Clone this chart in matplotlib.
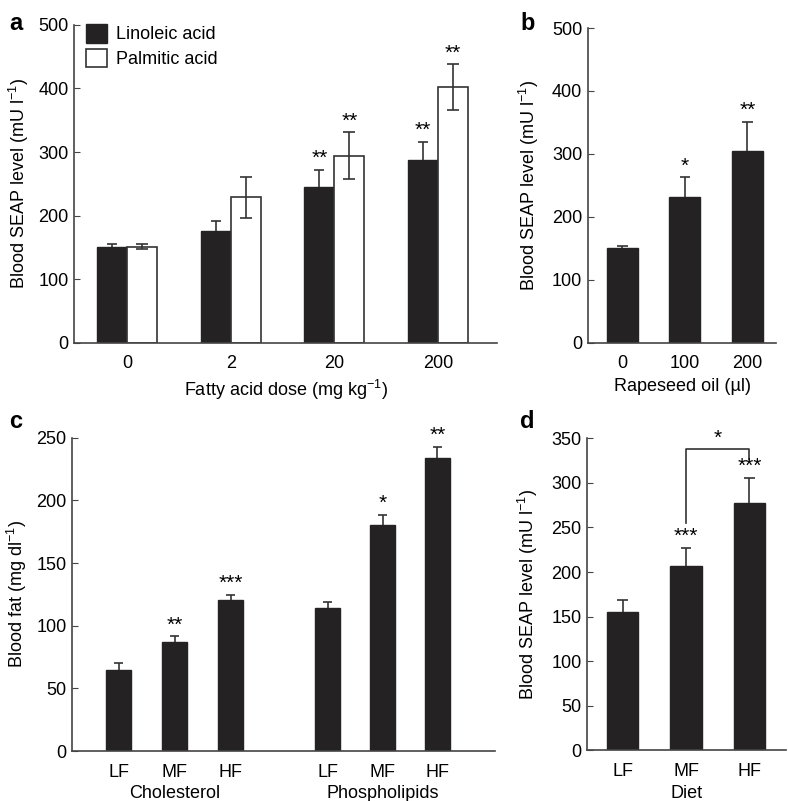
import matplotlib
matplotlib.use("Agg")
import matplotlib.pyplot as plt
import numpy as np

plt.rcParams["font.family"] = ["Liberation Sans", "DejaVu Sans"]
plt.rcParams["mathtext.fontset"] = "custom"
plt.rcParams["mathtext.rm"] = "Liberation Sans"
plt.rcParams["mathtext.default"] = "regular"
plt.rcParams["font.size"] = 10.5

BAR = "#252223"
AXC = "#444444"

# panel a
doses = ["0", "2", "20", "200"]
linoleic = [151, 176, 245, 288]
linoleic_err = [4, 16, 27, 28]
palmitic = [151, 229, 294, 402]
palmitic_err = [4, 32, 37, 36]
stars_lin = ["", "", "**", "**"]
stars_pal = ["", "", "**", "**"]

# panel b
oil = ["0", "100", "200"]
oil_vals = [151, 232, 305]
oil_err = [3, 31, 46]
oil_stars = ["", "*", "**"]

# panel c
diets = ["LF", "MF", "HF"]
chol = [65, 87, 120.5]
chol_err = [5, 4.5, 4]
chol_stars = ["", "**", "***"]
phos = [114, 180.5, 234]
phos_err = [5, 8, 9]
phos_stars = ["", "*", "**"]

# panel d
diet_vals = [155, 206.5, 277]
diet_err = [14, 21, 29]
diet_stars = ["", "***", "***"]


def style(ax):
    for s in ["top", "right"]:
        ax.spines[s].set_visible(False)
    for s in ["left", "bottom"]:
        ax.spines[s].set_color(AXC)
        ax.spines[s].set_linewidth(1.2)
    ax.tick_params(axis="y", direction="in", length=4, color=AXC, labelsize=13, pad=4)
    ax.tick_params(axis="x", length=0, labelsize=13, pad=9)


def up_err(ax, x, vals, errs, capw):
    # one-sided (upward) error bars
    x = np.asarray(x, dtype=float)
    tops = np.asarray(vals) + np.asarray(errs)
    ax.vlines(x, vals, tops, color="#333333", lw=1.2, zorder=3)
    ax.hlines(tops, x - capw, x + capw, color="#333333", lw=1.2, zorder=3)


def upbars(ax, x, vals, errs, w):
    ax.bar(x, vals, width=w, color=BAR, edgecolor=BAR, zorder=2)
    up_err(ax, x, vals, errs, w * 0.17)


def stars(ax, x, vals, errs, labels, gap):
    for xi, v, e, s in zip(x, vals, errs, labels):
        if s:
            ax.text(xi, v + e + gap, s, ha="center", va="bottom", fontsize=15)


fig = plt.figure(figsize=(7.88, 8.01), dpi=100)

# ---- a
ax = fig.add_axes([0.094, 0.572, 0.537, 0.397])
style(ax)
x = np.arange(len(doses))
w = 0.29
ax.bar(x - w / 2, linoleic, width=w, color=BAR, edgecolor=BAR, label="Linoleic acid", zorder=2)
ax.bar(x + w / 2, palmitic, width=w, color="white", edgecolor="#333333", linewidth=1.2,
       label="Palmitic acid", zorder=2)
up_err(ax, x - w / 2, linoleic, linoleic_err, w * 0.17)
ax.errorbar(x + w / 2, palmitic, yerr=palmitic_err, fmt="none",
            ecolor="#333333", elinewidth=1.2, capsize=4, capthick=1.2, zorder=3)
stars(ax, x - w / 2, linoleic, linoleic_err, stars_lin, 3)
stars(ax, x + w / 2, palmitic, palmitic_err, stars_pal, 3)
ax.set_xticks(x)
ax.set_xticklabels(doses)
ax.set_xlim(-0.51, 3.57)
ax.set_ylim(0, 500)
ax.set_yticks(range(0, 501, 100))
ax.set_ylabel("Blood SEAP level (mU l$^{-1}$)", fontsize=13, labelpad=5)
ax.set_xlabel("Fatty acid dose (mg kg$^{-1}$)", fontsize=13, labelpad=4)
ax.legend(loc="upper left", frameon=False, fontsize=13, handlelength=1.2, handleheight=1.2,
          handletextpad=0.5, borderaxespad=0.0, bbox_to_anchor=(0.01, 1.025), labelspacing=0.3)
fig.text(0.012, 0.985, "a", fontsize=17, fontweight="bold", va="top")

# ---- b
ax = fig.add_axes([0.746, 0.572, 0.239, 0.393])
style(ax)
x = np.arange(len(oil))
upbars(ax, x, oil_vals, oil_err, 0.5)
stars(ax, x, oil_vals, oil_err, oil_stars, 3)
ax.set_xticks(x)
ax.set_xticklabels(oil)
ax.set_xlim(-0.55, 2.46)
ax.set_ylim(0, 500)
ax.set_yticks(range(0, 501, 100))
ax.set_ylabel("Blood SEAP level (mU l$^{-1}$)", fontsize=13, labelpad=8)
ax.set_xlabel("Rapeseed oil (\u00b5l)", fontsize=13, labelpad=4)
fig.text(0.66, 0.985, "b", fontsize=17, fontweight="bold", va="top")

# ---- c
ax = fig.add_axes([0.0914, 0.0624, 0.537, 0.391])
style(ax)
xc = np.array([0, 1, 2])
xp = np.array([3.73, 4.71, 5.69])
upbars(ax, xc, chol, chol_err, 0.45)
upbars(ax, xp, phos, phos_err, 0.45)
stars(ax, xc, chol, chol_err, chol_stars, 1.5)
stars(ax, xp, phos, phos_err, phos_stars, 1.5)
ax.set_xticks(np.concatenate([xc, xp]))
ax.set_xticklabels(diets + diets)
ax.set_xlim(-0.83, 6.72)
ax.set_ylim(0, 250)
ax.set_yticks(range(0, 251, 50))
ax.set_ylabel("Blood fat (mg dl$^{-1}$)", fontsize=13, labelpad=5)
ax.text(xc.mean(), -0.135, "Cholesterol", transform=ax.get_xaxis_transform(),
        ha="center", va="center", fontsize=13)
ax.text(xp.mean(), -0.135, "Phospholipids", transform=ax.get_xaxis_transform(),
        ha="center", va="center", fontsize=13)
fig.text(0.012, 0.488, "c", fontsize=17, fontweight="bold", va="top")

# ---- d
ax = fig.add_axes([0.745, 0.0636, 0.252, 0.389])
style(ax)
x = np.arange(len(diets))
upbars(ax, x, diet_vals, diet_err, 0.49)
stars(ax, x, diet_vals, diet_err, diet_stars, 2)
ax.plot([1, 1, 2, 2], [255, 338, 338, 327], color="#333333", lw=1.2)
ax.text(1.5, 339, "*", ha="center", va="bottom", fontsize=15)
ax.set_xticks(x)
ax.set_xticklabels(diets)
ax.set_xlim(-0.56, 2.57)
ax.set_ylim(0, 350)
ax.set_yticks(range(0, 351, 50))
ax.set_ylabel("Blood SEAP level (mU l$^{-1}$)", fontsize=13, labelpad=8)
ax.set_xlabel("Diet", fontsize=13, labelpad=4)
fig.text(0.66, 0.488, "d", fontsize=17, fontweight="bold", va="top")

fig.savefig("out.png", dpi=100)
